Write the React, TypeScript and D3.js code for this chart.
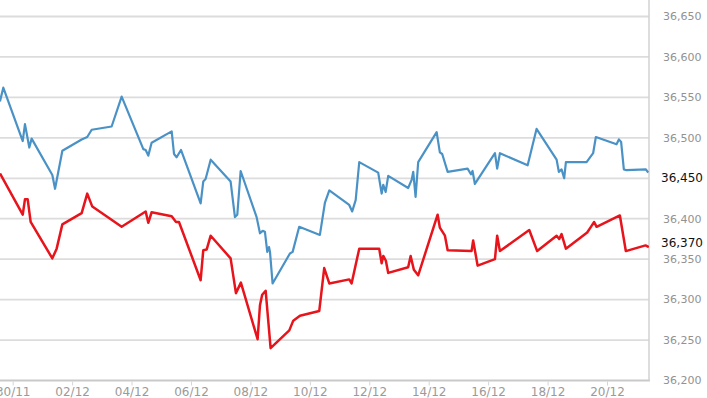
import * as d3 from 'd3';
import { useEffect, useRef } from 'react';

// hours counted from 30/11 00:00
const blueHours = [-10.7, -8.0, 7.7, 9.5, 13.0, 14.9, 31.6, 33.8, 39.7, 55.3, 59.8, 63.4, 79.5, 87.6,
    105.1, 107.0, 109.1, 111.8, 128.0, 129.9, 132.0, 135.5, 151.4, 153.5, 155.4, 159.5, 175.6, 179.1,
    181.0, 183.7, 196.6, 199.3, 201.5, 203.3, 205.2, 206.6, 207.4, 209.5, 223.5, 225.7, 231.0, 247.7,
    251.8, 255.3, 271.4, 273.8, 276.6, 279.5, 294.8, 297.6, 298.9, 300.8, 302.9, 319.0, 321.8, 323.1,
    325.0, 327.1, 342.0, 344.6, 346.5, 350.9, 367.0, 369.7, 371.0, 372.9, 389.1, 390.9, 393.1, 415.5,
    422.7, 438.9, 440.7, 442.9, 445.0, 446.4, 463.1, 468.4, 470.6, 487.3, 489.2, 491.0, 493.2, 495.4,
    511.0, 512.9];
const blueValues = [36545, 36562, 36496, 36517, 36488, 36499, 36454, 36437, 36484, 36498, 36501, 36510, 36514, 36551,
    36486, 36485, 36478, 36494, 36508, 36480, 36476, 36485, 36419, 36446, 36449, 36473, 36446, 36402,
    36405, 36459, 36402, 36382, 36385, 36384, 36359, 36365, 36359, 36320, 36357, 36359, 36390, 36380,
    36420, 36435, 36417, 36409, 36423, 36470, 36457, 36431, 36442, 36433, 36453, 36438, 36448, 36458,
    36427, 36470, 36507, 36482, 36480, 36458, 36462, 36455, 36459, 36443, 36481, 36462, 36481, 36466,
    36511, 36473, 36458, 36461, 36450, 36470, 36470, 36481, 36501, 36492, 36498, 36495, 36461, 36460,
    36461, 36457];

const redHours = [-10.7, 7.7, 9.5, 11.7, 14.1, 31.6, 35.1, 39.7, 55.3, 59.8, 63.9, 87.6, 107.0, 109.1,
    111.8, 128.0, 131.5, 133.9, 151.4, 153.5, 156.3, 159.5, 175.6, 179.9, 183.9, 197.4, 199.3, 201.1,
    203.9, 207.9, 223.0, 226.2, 231.6, 247.2, 251.2, 255.3, 271.4, 273.3, 279.5, 295.6, 297.6, 298.9,
    301.0, 302.9, 319.0, 321.0, 323.6, 327.1, 342.8, 344.6, 348.7, 350.9, 370.2, 371.5, 375.1, 389.1,
    390.9, 393.1, 416.8, 423.2, 438.9, 441.0, 442.9, 446.4, 463.6, 466.6, 469.2, 471.2, 490.0, 494.8,
    510.7, 513.4];
const redValues = [36456, 36405, 36424, 36424, 36396, 36351, 36363, 36393, 36407, 36431, 36415, 36390, 36409, 36395,
    36408, 36403, 36396, 36396, 36324, 36361, 36362, 36379, 36351, 36308, 36321, 36251, 36293, 36306,
    36311, 36240, 36262, 36274, 36280, 36286, 36339, 36320, 36325, 36320, 36363, 36363, 36345, 36354,
    36348, 36333, 36340, 36354, 36337, 36330, 36405, 36389, 36379, 36361, 36360, 36373, 36342, 36350,
    36379, 36360, 36386, 36360, 36379, 36375, 36381, 36363, 36383, 36390, 36396, 36390, 36404, 36360,
    36367, 36365];

const yTicks = [36200, 36250, 36300, 36350, 36400, 36450, 36500, 36550, 36600, 36650];
const xTickLabels = ['30/11', '02/12', '04/12', '06/12', '08/12', '10/12', '12/12', '14/12', '16/12', '18/12', '20/12'];
const lastPrices = [36450, 36370];

export default function App() {
    const ref = useRef<SVGSVGElement | null>(null);
    const width = 707, height = 398;
    const plotRight = 649, plotBottom = 380.5;

    useEffect(() => {
        drawChart();
    }, []);

    function drawChart() {
        const svg = d3.select(ref.current);
        svg.selectAll('*').remove();

        const parse = d3.timeParse('%d/%m/%Y');
        const start = new Date(2023, 10, 30);
        const toDate = (h: number) => new Date(start.getTime() + h * 3600e3);
        const tickDates = xTickLabels.map(l => parse(l + '/2023') as Date);

        const x = d3.scaleTime()
            .domain([tickDates[0], tickDates[tickDates.length - 1]])
            .range([13.2, 607.5]);
        const y = d3.scaleLinear()
            .domain([36200, 36650])
            .range([plotBottom, 16.5]);

        svg.append('clipPath').attr('id', 'plot-clip')
            .append('rect').attr('x', 0).attr('y', 0).attr('width', plotRight).attr('height', plotBottom);

        // grid
        svg.append('g').selectAll('line')
            .data(yTicks.filter(t => t !== 36200))
            .enter().append('line')
            .attr('x1', 0).attr('x2', plotRight)
            .attr('y1', d => y(d)).attr('y2', d => y(d))
            .attr('stroke', '#dcdcdc').attr('stroke-width', 1.8);

        // frame
        svg.append('line').attr('x1', 0).attr('x2', plotRight + 1)
            .attr('y1', plotBottom).attr('y2', plotBottom)
            .attr('stroke', '#c9c9c9').attr('stroke-width', 2);
        svg.append('line').attr('x1', plotRight).attr('x2', plotRight)
            .attr('y1', 0).attr('y2', plotBottom)
            .attr('stroke', '#d2d2d2').attr('stroke-width', 1.5);

        // x axis
        const xg = svg.append('g').selectAll('g')
            .data(tickDates)
            .enter().append('g')
            .attr('transform', d => 'translate(' + x(d) + ',0)');
        xg.append('line').attr('y1', plotBottom + 1).attr('y2', plotBottom + 5)
            .attr('stroke', '#d5d5d5');
        xg.append('text')
            .attr('y', 396)
            .attr('text-anchor', 'middle')
            .attr('font-family', 'DejaVu Sans, sans-serif')
            .attr('font-size', 12)
            .attr('fill', '#9a9a9a')
            .text((d, i) => xTickLabels[i]);

        // y axis labels (right)
        svg.append('g').selectAll('text')
            .data(yTicks.filter(t => !lastPrices.includes(t)))
            .enter().append('text')
            .attr('x', 663).attr('y', d => y(d)).attr('dy', '0.35em')
            .attr('font-family', 'DejaVu Sans, sans-serif')
            .attr('font-size', 11)
            .attr('fill', '#929292')
            .text(d => d3.format(',')(d));

        svg.append('g').selectAll('text')
            .data(lastPrices)
            .enter().append('text')
            .attr('x', 661).attr('y', d => y(d)).attr('dy', '0.35em')
            .attr('font-family', 'DejaVu Sans, sans-serif')
            .attr('font-size', 12)
            .attr('fill', '#111')
            .text(d => d3.format(',')(d));

        // lines
        const line = d3.line<[number, number]>()
            .x(d => x(toDate(d[0])))
            .y(d => y(d[1]));
        const series = [
            { hours: blueHours, values: blueValues, color: '#4a92c6', w: 2.2 },
            { hours: redHours, values: redValues, color: '#e8141c', w: 2.5 },
        ];
        const lines = svg.append('g').attr('clip-path', 'url(#plot-clip)');
        series.forEach(s => {
            lines.append('path')
                .datum(s.hours.map((h, i) => [h, s.values[i]] as [number, number]))
                .attr('d', line)
                .attr('fill', 'none')
                .attr('stroke', s.color)
                .attr('stroke-width', s.w)
                .attr('stroke-linejoin', 'round');
        });
    }

    return (
        <svg ref={ref} width={width} height={height}
            style={{ position: 'absolute', left: 0, top: 0, background: '#fff' }} />
    );
}
